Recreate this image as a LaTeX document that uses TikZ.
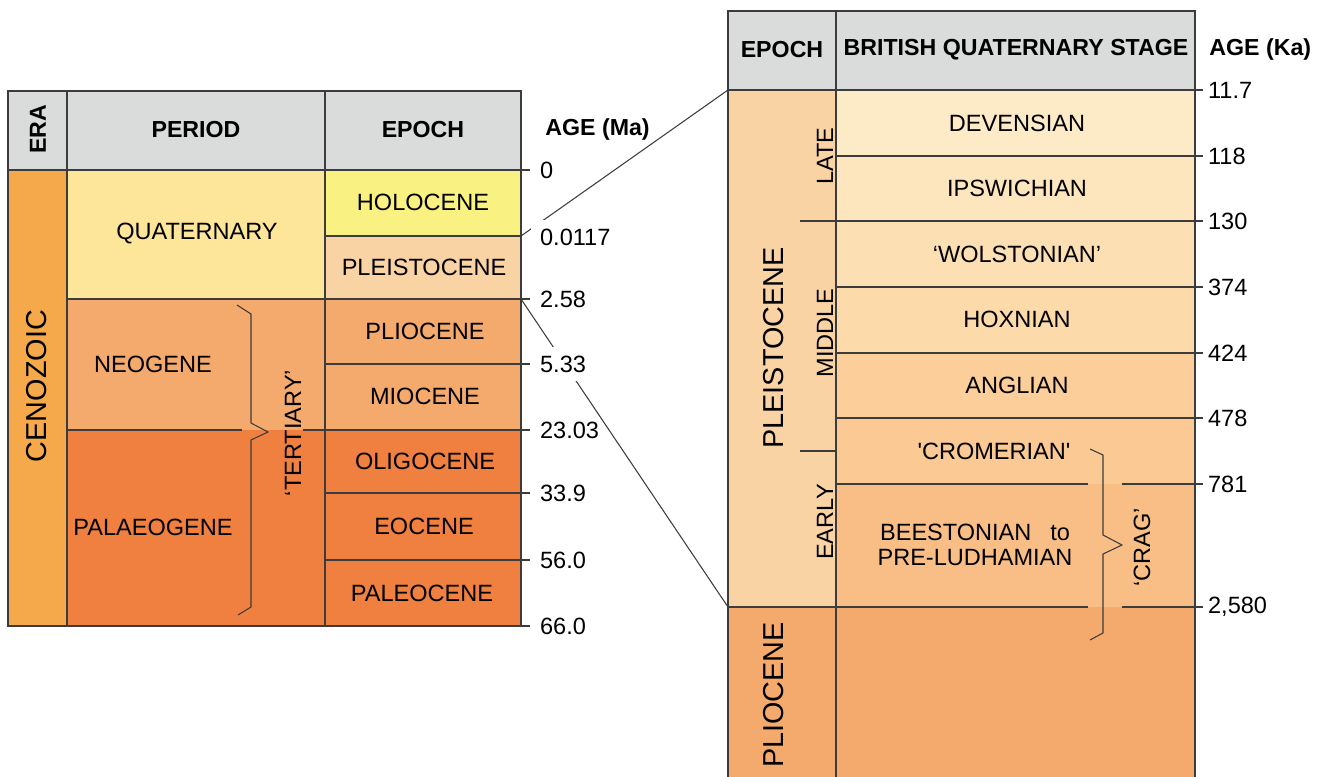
\documentclass[tikz,border=0pt]{standalone}
\usepackage{fontspec}
\setmainfont{Liberation Sans}
\usepackage{tikz}
\usepackage{xcolor}
\definecolor{hdrgrey}{HTML}{DADBDB}
\definecolor{linegrey}{HTML}{3C3C3C}
\definecolor{cenoz}{HTML}{F6A94A}
\definecolor{quatc}{HTML}{FDE59A}
\definecolor{holoc}{HTML}{F9F283}
\definecolor{pleic}{HTML}{FAD3A5}
\definecolor{neoc}{HTML}{F4AA6D}
\definecolor{palc}{HTML}{EF8040}
\definecolor{devc}{HTML}{FDEBC8}
\definecolor{ipsc}{HTML}{FDE6BE}
\definecolor{wolc}{HTML}{FCDFB2}
\definecolor{hoxc}{HTML}{FCDAAA}
\definecolor{angc}{HTML}{FBCE9A}
\definecolor{cromc}{HTML}{FAC994}
\definecolor{beec}{HTML}{F9BE86}
\tikzset{txt/.style={font=\fontsize{13.4}{14.5}\selectfont,inner sep=0pt},
 hdr/.style={font=\fontsize{13.2}{15}\selectfont\bfseries,inner sep=0pt},
 big/.style={font=\fontsize{16.4}{18}\selectfont,rotate=90,inner sep=0pt},
 age/.style={txt,anchor=west,inner sep=5pt},
 cut/.style={fill=white},
 rule/.style={draw=linegrey,line width=0.6pt},
 brace/.style={draw=linegrey,line width=0.6pt,line join=miter},
 }

\begin{document}
\begin{tikzpicture}[x=0.02cm,y=-0.02cm]
        \useasboundingbox (0,0) rectangle (1325,777);
        % left table
        \fill[hdrgrey] (8,91) rectangle (521,170);
        \fill[cenoz] (8,170) rectangle (67,626);
        \fill[quatc] (67,170) rectangle (325,299);
        \fill[neoc] (67,299) rectangle (325,430);
        \fill[palc] (67,430) rectangle (325,626);
        \fill[holoc] (325,170) rectangle (521,236);
        \fill[pleic] (325,236) rectangle (521,299);
        \fill[neoc] (325,299) rectangle (521,430);
        \fill[palc] (325,430) rectangle (521,626);
        \draw[rule] (8,91) rectangle (521,626);
        \draw[rule] (67,91) -- (67,626);
        \draw[rule] (325,91) -- (325,626);
        \draw[rule] (8,170) -- (530,170);
        \draw[rule] (325,236) -- (521,236);
        \draw[rule] (67,299) -- (530,299);
        \draw[rule] (325,364) -- (530,364);
        \draw[rule] (67,430) -- (242,430);
        \draw[rule] (303,430) -- (530,430);
        \draw[rule] (325,493) -- (530,493);
        \draw[rule] (325,560) -- (530,560);
        \draw[rule] (521,626) -- (530,626);
        \draw[brace] (237,305) -- (251,314) -- (251,423) -- (268,432) -- (251,440) -- (251,607) -- (238,615);
        % right table
        \fill[hdrgrey] (728,11) rectangle (1195,90);
        \fill[pleic] (728,90) rectangle (836,607);
        \fill[neoc] (728,607) rectangle (1195,777);
        \fill[devc] (836,90) rectangle (1195,156);
        \fill[ipsc] (836,156) rectangle (1195,221);
        \fill[wolc] (836,221) rectangle (1195,287);
        \fill[hoxc] (836,287) rectangle (1195,353);
        \fill[angc] (836,353) rectangle (1195,418);
        \fill[cromc] (836,418) rectangle (1195,484);
        \fill[beec] (836,484) rectangle (1195,607);
        \draw[rule] (728,777) -- (728,11) -- (1195,11) -- (1195,777);
        \draw[rule] (836,11) -- (836,777);
        \draw[rule] (728,90) -- (1203,90);
        \draw[rule] (836,156) -- (1203,156);
        \draw[rule] (800,221) -- (1203,221);
        \draw[rule] (836,287) -- (1203,287);
        \draw[rule] (836,353) -- (1203,353);
        \draw[rule] (836,418) -- (1203,418);
        \draw[rule] (800,451) -- (836,451);
        \draw[rule] (836,484) -- (1088,484);
        \draw[rule] (1122,484) -- (1203,484);
        \draw[rule] (728,607) -- (1088,607);
        \draw[rule] (1122,607) -- (1203,607);
        \draw[brace] (1090,449) -- (1103,455) -- (1103,535) -- (1122,545) -- (1103,554) -- (1103,633) -- (1090,640);
        % zoom lines
        \coordinate (holoBase) at (521,236);
        \coordinate (plioTop) at (521,299);
        \coordinate (rTop) at (728,90);
        \coordinate (rBase) at (728,607);
        \draw[rule] (holoBase) -- (rTop);
        \draw[rule] (plioTop) -- (rBase);
        % left labels
        \node[hdr,rotate=90] (era) at (38,129) {ERA};
        \node[hdr] (period) at (196,130) {PERIOD};
        \node[hdr] (epochL) at (423,130) {EPOCH};
        \node[hdr,anchor=west] (ageMa) at (545,130) {AGE (Ma)};
        \node[big] (ceno) at (37,386) {CENOZOIC};
        \node[txt] (quat) at (197,234) {QUATERNARY};
        \node[txt] (neog) at (153,364) {NEOGENE};
        \node[txt] (palg) at (153,527) {PALAEOGENE};
        \node[txt,rotate=90] (tert) at (293,433) {‘TERTIARY’};
        \node[txt] (holo) at (423,202) {HOLOCENE};
        \node[txt] (pleiL) at (424,267) {PLEISTOCENE};
        \node[txt] (plioL) at (425,331) {PLIOCENE};
        \node[txt] (mioL) at (425,396) {MIOCENE};
        \node[txt] (oligo) at (425,461) {OLIGOCENE};
        \node[txt] (eoc) at (424,526) {EOCENE};
        \node[txt] (paleo) at (422,593) {PALEOCENE};
        \node[age] (ma0) at (531,170) {0};
        \node[age,cut] (ma1) at (531,237) {0.0117};
        \node[age] (ma2) at (531,299) {2.58};
        \node[age,cut] (ma3) at (531,364) {5.33};
        \node[age] (ma4) at (531,430) {23.03};
        \node[age] (ma5) at (531,493) {33.9};
        \node[age] (ma6) at (531,560) {56.0};
        \node[age] (ma7) at (531,626) {66.0};
        % right labels
        \node[hdr] (epochR) at (782,50) {EPOCH};
        \node[hdr] (stage) at (1016,50) {BRITISH QUATERNARY STAGE};
        \node[hdr,anchor=west] (ageKa) at (1209,50) {AGE (Ka)};
        \node[big] (pleiR) at (774,348) {PLEISTOCENE};
        \node[big] (plioR) at (774,695) {PLIOCENE};
        \node[txt,rotate=90] (late) at (825,156) {LATE};
        \node[txt,rotate=90] (middle) at (825,333) {MIDDLE};
        \node[txt,rotate=90] (early) at (825,522) {EARLY};
        \node[txt] (deven) at (1017,123) {DEVENSIAN};
        \node[txt] (ipsw) at (1017,188) {IPSWICHIAN};
        \node[txt] (wolst) at (1017,254) {‘WOLSTONIAN’};
        \node[txt] (hoxn) at (1017,319) {HOXNIAN};
        \node[txt] (angl) at (1017,385) {ANGLIAN};
        \node[txt] (crom) at (994,451) {\textquotesingle CROMERIAN\textquotesingle};
        \node[txt,align=center] (beest) at (975,545) {BEESTONIAN\hspace{0.8em}to\\PRE-LUDHAMIAN};
        \node[txt,rotate=90] (crag) at (1142,547) {‘CRAG’};
        \node[age] (ka0) at (1199,90) {11.7};
        \node[age] (ka1) at (1199,156) {118};
        \node[age] (ka2) at (1199,221) {130};
        \node[age] (ka3) at (1199,287) {374};
        \node[age] (ka4) at (1199,353) {424};
        \node[age] (ka5) at (1199,418) {478};
        \node[age] (ka6) at (1199,484) {781};
        \node[age] (ka7) at (1199,607) {2,580};
\end{tikzpicture}
\end{document}
